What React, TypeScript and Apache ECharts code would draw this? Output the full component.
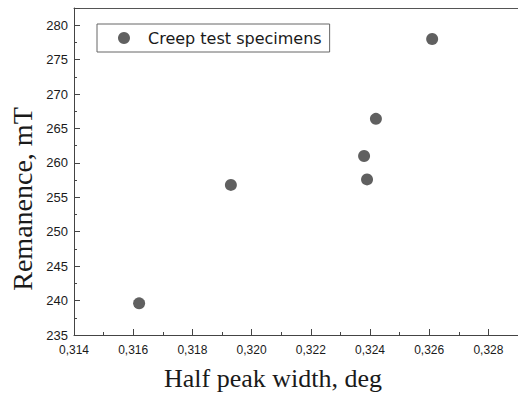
import React, { useEffect, useRef } from "react";
import * as echarts from "echarts";

const seriesName = "Creep test specimens";
const halfPeakWidth = [0.3162, 0.3193, 0.3238, 0.3239, 0.3242, 0.3261];
const remanence = [239.6, 256.8, 261.0, 257.6, 266.4, 278.0];
const xTitle = "Half peak width, deg";
const yTitle = "Remanence, mT";

export default function App() {
  const ref = useRef<HTMLDivElement>(null);
  useEffect(() => {
    document.body.style.margin = "0";
    const chart = echarts.init(ref.current!, null, { renderer: "svg" });
    chart.setOption({
      animation: false,
      backgroundColor: "#fff",
      grid: {
        left: 74,
        right: 0,
        top: 8,
        bottom: 59,
        outerBoundsMode: "none",
        containLabel: false,
      },
      legend: {
        left: 97,
        top: 24,
        orient: "horizontal",
        data: [seriesName],
        borderColor: "#666",
        borderWidth: 1,
        borderRadius: 0,
        padding: [6, 8, 6, 21],
        itemWidth: 12,
        itemHeight: 12,
        itemGap: 10,
        textStyle: {
          color: "#1a1a1a",
          fontFamily: "DejaVu Sans",
          fontSize: 16,
          padding: [0, 0, 0, 13],
        },
      },
      graphic: [
        {
          type: "text",
          x: 273,
          y: 378,
          style: {
            text: xTitle,
            fill: "#1a1a1a",
            font: "26px 'Liberation Serif'",
            align: "center",
            verticalAlign: "middle",
          },
        },
        {
          type: "text",
          x: 22,
          y: 199,
          rotation: Math.PI / 2,
          style: {
            text: yTitle,
            fill: "#1a1a1a",
            font: "28px 'Liberation Serif'",
            align: "center",
            verticalAlign: "middle",
          },
        },
      ],
      xAxis: [
        {
          type: "value",
          min: 0.314,
          max: 0.329,
          interval: 0.002,
          axisLine: { show: true, onZero: false, lineStyle: { color: "#444", width: 1 } },
          axisTick: { show: true, inside: true, length: 6, lineStyle: { color: "#444" } },
          minorTick: { show: true, splitNumber: 2, length: 3, lineStyle: { color: "#444" } },
          splitLine: { show: false },
          axisLabel: {
            color: "#1a1a1a",
            fontFamily: "Liberation Sans",
            fontSize: 12,
            margin: 9,
            showMaxLabel: false,
            formatter: (v: number) => v.toFixed(3).replace(".", ","),
          },
        },
        {
          type: "value",
          position: "top",
          min: 0.314,
          max: 0.329,
          axisLine: { show: true, onZero: false, lineStyle: { color: "#555", width: 1 } },
          axisTick: { show: false },
          axisLabel: { show: false },
          splitLine: { show: false },
        },
      ],
      yAxis: {
        type: "value",
        min: 235,
        max: 282.5,
        interval: 5,
        axisLine: { show: true, onZero: false, lineStyle: { color: "#444", width: 1 } },
        axisTick: { show: true, inside: true, length: 6, lineStyle: { color: "#444" } },
        minorTick: { show: true, splitNumber: 2, length: 3, lineStyle: { color: "#444" } },
        splitLine: { show: false },
        axisLabel: {
          color: "#1a1a1a",
          fontFamily: "Liberation Sans",
          fontSize: 13,
          margin: 6,
          showMaxLabel: false,
        },
      },
      series: [
        {
          name: seriesName,
          type: "scatter",
          xAxisIndex: 0,
          symbol: "circle",
          symbolSize: 12,
          itemStyle: { color: "#383838" },
          data: halfPeakWidth.map((x, i) => [x, remanence[i]]),
        },
      ],
    });
    return () => chart.dispose();
  }, []);
  return (
    <div
      ref={ref}
      style={{ position: "fixed", left: 0, top: 0, width: 518, height: 394 }}
    />
  );
}
